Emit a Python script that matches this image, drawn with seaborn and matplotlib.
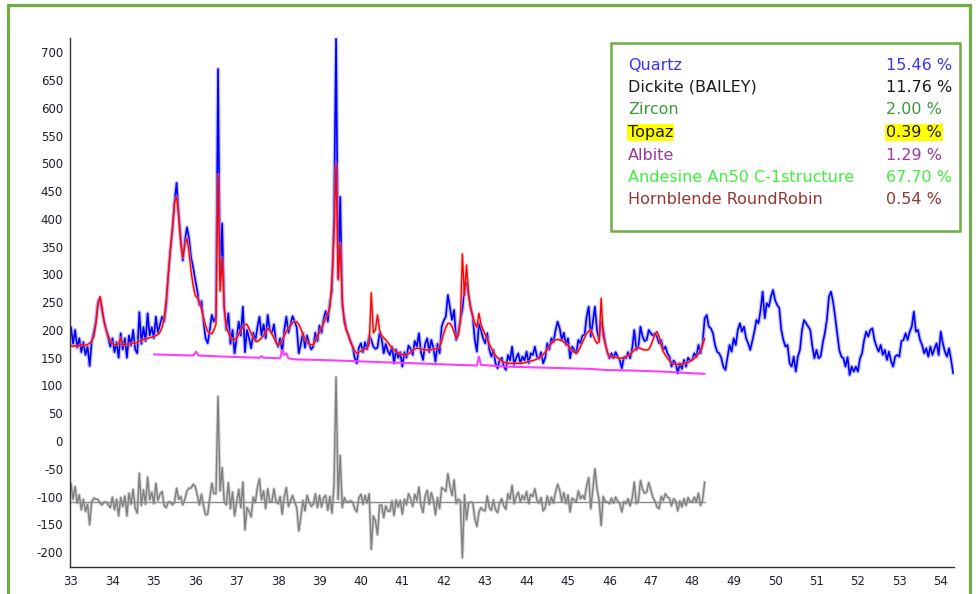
import numpy as np
import pandas as pd
import matplotlib
matplotlib.use("Agg")
import matplotlib.pyplot as plt
from matplotlib.ticker import MultipleLocator
from matplotlib.patches import Rectangle
import seaborn as sns

# 2-theta grid of the scan (degrees)
START_2THETA = 33.0
STEP_2THETA = 0.05

# Observed intensity (counts), 33.00 .. 54.30 deg, one row per degree
observed = [
    205, 175, 200, 168, 185, 160, 178, 155, 170, 135, 180, 195, 215, 250, 258, 235, 215, 200, 185, 170,
    185, 160, 178, 150, 194, 165, 185, 150, 190, 172, 200, 165, 158, 232, 175, 205, 180, 230, 190, 205,
    185, 224, 195, 210, 224, 215, 245, 300, 345, 380, 430, 465, 410, 365, 325, 360, 385, 365, 330, 312,
    290, 270, 245, 252, 215, 185, 176, 200, 227, 215, 225, 670, 290, 392, 240, 200, 230, 175, 200, 158,
    185, 215, 190, 242, 160, 200, 185, 167, 195, 180, 205, 224, 190, 210, 185, 227, 200, 194, 210, 179,
    170, 185, 160, 200, 224, 195, 210, 225, 215, 205, 158, 175, 195, 168, 190, 175, 165, 170, 195, 180,
    208, 195, 220, 234, 215, 250, 270, 400, 725, 295, 440, 245, 220, 200, 190, 180, 170, 150, 140, 168,
    176, 160, 178, 165, 190, 182, 170, 166, 168, 194, 185, 158, 175, 162, 155, 170, 140, 165, 150, 160,
    134, 160, 150, 172, 166, 155, 180, 170, 194, 160, 146, 175, 185, 160, 182, 168, 143, 175, 158, 206,
    217, 224, 263, 240, 218, 236, 182, 195, 217, 237, 275, 285, 263, 240, 224, 182, 161, 212, 200, 185,
    176, 194, 165, 152, 164, 140, 131, 146, 150, 135, 128, 155, 145, 170, 137, 150, 158, 140, 152, 145,
    161, 140, 158, 155, 170, 152, 148, 160, 140, 150, 176, 165, 185, 178, 200, 215, 203, 182, 195, 173,
    185, 149, 170, 164, 158, 182, 176, 190, 191, 224, 242, 188, 215, 242, 200, 182, 215, 200, 176, 160,
    149, 158, 149, 160, 152, 146, 131, 151, 149, 160, 149, 167, 200, 164, 170, 206, 188, 180, 182, 200,
    194, 190, 194, 188, 176, 182, 164, 170, 158, 152, 134, 145, 140, 122, 140, 130, 146, 134, 150, 145,
    146, 158, 152, 173, 158, 176, 221, 227, 206, 203, 194, 173, 161, 158, 150, 134, 128, 151, 173, 161,
    185, 173, 200, 212, 197, 206, 185, 176, 164, 180, 197, 218, 212, 236, 269, 221, 248, 242, 260, 272,
    254, 245, 240, 200, 182, 170, 173, 140, 134, 152, 125, 152, 164, 200, 218, 212, 206, 200, 170, 149,
    164, 149, 152, 176, 194, 218, 260, 269, 251, 224, 194, 164, 152, 149, 134, 151, 119, 134, 125, 134,
    125, 149, 158, 182, 197, 188, 200, 203, 182, 170, 161, 173, 155, 164, 146, 161, 144, 134, 152, 155,
    152, 180, 182, 194, 182, 197, 206, 233, 197, 200, 182, 173, 158, 167, 152, 170, 155, 167, 176, 155,
    197, 176, 161, 152, 167, 146, 122,
]

# Calculated (refined) profile, 33.00 .. 48.30 deg
calculated = [
    172, 170, 172, 170, 172, 174, 173, 172, 174, 176, 180, 188, 210, 245, 260, 240, 215, 200, 190, 180,
    176, 174, 173, 175, 186, 173, 174, 175, 174, 176, 177, 176, 178, 180, 181, 183, 184, 185, 186, 187,
    188, 190, 192, 196, 205, 222, 255, 300, 345, 385, 430, 440, 405, 355, 330, 355, 365, 340, 305, 280,
    262, 258, 250, 238, 222, 208, 198, 194, 193, 200, 210, 480, 270, 330, 240, 205, 195, 187, 182, 183,
    186, 192, 200, 206, 210, 210, 202, 194, 186, 181, 179, 182, 186, 190, 197, 203, 200, 193, 186, 178,
    173, 175, 182, 190, 198, 203, 208, 213, 215, 215, 210, 202, 192, 184, 178, 175, 173, 174, 180, 190,
    196, 204, 212, 222, 230, 240, 290, 370, 500, 290, 356, 255, 212, 200, 190, 178, 170, 162, 158, 160,
    162, 164, 166, 167, 175, 267, 195, 200, 227, 200, 190, 186, 182, 178, 172, 168, 164, 161, 159, 157,
    156, 155, 155, 157, 160, 163, 166, 167, 167, 166, 165, 164, 164, 164, 165, 165, 166, 167, 170, 180,
    194, 205, 212, 212, 206, 196, 185, 190, 215, 337, 262, 317, 265, 240, 225, 212, 205, 230, 210, 200,
    192, 183, 175, 167, 160, 154, 150, 147, 144, 142, 141, 140, 140, 140, 140, 140, 140, 140, 140, 141,
    142, 143, 144, 145, 146, 148, 150, 152, 156, 160, 165, 170, 176, 180, 182, 183, 182, 181, 178, 176,
    172, 167, 163, 160, 158, 162, 170, 178, 186, 194, 198, 200, 192, 182, 176, 178, 257, 190, 175, 160,
    152, 151, 151, 151, 150, 149, 149, 150, 152, 154, 156, 160, 164, 167, 168, 167, 165, 164, 164, 165,
    172, 182, 192, 197, 188, 172, 161, 155, 149, 145, 141, 139, 138, 138, 138, 139, 140, 140, 142, 144,
    146, 149, 152, 157, 164, 173, 185,
]

# Background curve
background_2theta = [35.0, 35.9, 35.97, 36.02, 36.08, 36.7, 37.55, 37.6, 37.65, 38.05, 38.1,
                     38.15, 38.2, 38.25, 38.4, 39.0, 39.8, 40.5, 41.3, 42.0, 42.8, 42.85,
                     42.9, 43.5, 44.5, 45.5, 45.9, 46.5, 47.3, 48.0, 48.3]
background = [156, 154, 155, 161, 154, 152, 150, 153, 150, 149, 164,
              155, 158, 149, 147, 146, 144, 142, 140, 138, 136, 152,
              137, 134, 132, 130, 128, 127, 125, 122, 121]

# Offset at which the difference curve (observed - calculated) is drawn
DIFF_OFFSET = -110

phases = ["Quartz", "Dickite (BAILEY)", "Zircon", "Topaz", "Albite",
          "Andesine An50 C-1structure", "Hornblende RoundRobin"]
phase_pct = [15.46, 11.76, 2.00, 0.39, 1.29, 67.70, 0.54]
phase_colors = ["#3535F5", "#1A1A1A", "#3A9A3A", "#1A1A1A", "#9A3A9A", "#3CF03C", "#953535"]
highlighted_phase = "Topaz"

x_ticks = list(range(33, 55))
y_ticks = list(range(-200, 701, 50))

# ---------------------------------------------------------------------------
sns.set_theme(style="white")
plt.rcParams["font.family"] = ["DejaVu Sans"]
plt.rcParams["axes.unicode_minus"] = False

obs = np.array(observed, dtype=float)
calc = np.array(calculated, dtype=float)
tt_obs = np.round(START_2THETA + STEP_2THETA * np.arange(len(obs)), 2)
tt_calc = tt_obs[:len(calc)]
diff = obs[:len(calc)] - calc + DIFF_OFFSET

df_obs = pd.DataFrame({"two_theta": tt_obs, "counts": obs})
df_calc = pd.DataFrame({"two_theta": tt_calc, "counts": calc, "diff": diff,
                        "zero": np.full(len(calc), DIFF_OFFSET, dtype=float)})
df_bkg = pd.DataFrame({"two_theta": background_2theta, "counts": background})

W, H = 976, 594
fig = plt.figure(figsize=(W / 100, H / 100), dpi=100)
fig.patch.set_facecolor("white")
ax = fig.add_axes([70 / W, 1 - 567 / H, (954 - 70) / W, (567 - 38) / H])

kw = dict(ax=ax, x="two_theta", estimator=None, sort=False, legend=False)

# observed pattern with soft halo
sns.lineplot(data=df_obs, y="counts", color="#8C8CFF", lw=3.0, alpha=0.5, **kw)
sns.lineplot(data=df_obs, y="counts", color="#0000FF", lw=1.2, **kw)
# calculated pattern
sns.lineplot(data=df_calc, y="counts", color="#FF9A9A", lw=2.2, alpha=0.55, **kw)
sns.lineplot(data=df_calc, y="counts", color="#FF0000", lw=1.0, **kw)
# background
sns.lineplot(data=df_bkg, y="counts", color="#FF3CFF", lw=1.5, **kw)
# difference curve and its zero line
sns.lineplot(data=df_calc, y="diff", color="#BDBDBD", lw=2.4, alpha=0.65, **kw)
sns.lineplot(data=df_calc, y="diff", color="#7F7F7F", lw=1.0, **kw)
sns.lineplot(data=df_calc, y="zero", color="#8A8A8A", lw=1.0, **kw)

ax.set_xlim(32.976, 54.32)
ax.set_ylim(-227, 726)
ax.set_xticks(x_ticks)
ax.set_yticks(y_ticks)
ax.xaxis.set_minor_locator(MultipleLocator(0.2))
ax.yaxis.set_minor_locator(MultipleLocator(10))
ax.set_xlabel("")
ax.set_ylabel("")
ax.grid(False)
sns.despine(ax=ax, top=True, right=True)
for side in ("left", "bottom"):
    ax.spines[side].set_color("#333333")
    ax.spines[side].set_linewidth(1.0)
ax.tick_params(axis="both", which="major", direction="out", length=4, width=1,
               color="#333333", labelcolor="#1E1E2A", labelsize=8.5)
ax.tick_params(axis="both", which="minor", direction="out", length=2, width=0.8,
               color="#555555")
ax.tick_params(axis="y", which="major", pad=1)
ax.tick_params(axis="x", which="major", pad=2)

# outer frame
fig.add_artist(Rectangle((8 / W, -0.05), (970 - 8) / W, 1.05 - 5 / H,
                         transform=fig.transFigure, fill=False,
                         edgecolor="#70AD47", lw=2.3, clip_on=False))

# phase quantification box
fig.add_artist(Rectangle((611 / W, 1 - 231 / H), (960 - 611) / W, (231 - 43) / H,
                         transform=fig.transFigure, facecolor="white",
                         edgecolor="#70AD47", lw=1.8, zorder=5))
row_y = 65
for name, pct, col in zip(phases, phase_pct, phase_colors):
    bbox = None
    if name == highlighted_phase:
        bbox = dict(facecolor="#FFFF00", edgecolor="none", pad=0.6)
    fig.text(628 / W, 1 - row_y / H, name, color=col, fontsize=11.5,
             ha="left", va="center", bbox=bbox, zorder=6)
    fig.text(886 / W, 1 - row_y / H, f"{pct:.2f} %", color=col, fontsize=11.5,
             ha="left", va="center", bbox=bbox, zorder=6)
    row_y += 22.5

fig.savefig("out.png", dpi=100, facecolor="white")
